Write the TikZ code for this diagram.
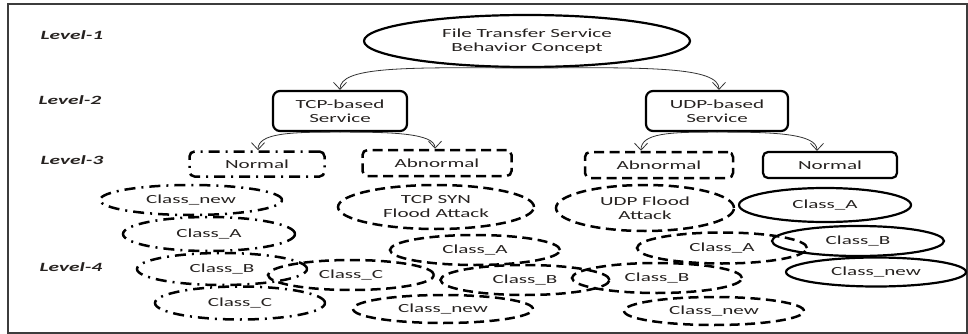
\documentclass[tikz,border=0pt]{standalone}
\usepackage{fontspec}
\setmainfont{Carlito}[FakeStretch=1.7]
\usetikzlibrary{shapes.geometric,arrows.meta}

\definecolor{ink}{RGB}{38,34,32}
\definecolor{framegray}{RGB}{60,60,60}

\begin{document}
\begin{tikzpicture}[x=1pt,y=-1pt,
  font=\fontsize{12.4}{14}\selectfont,
  every node/.style={text=ink},
  lvl/.style={font=\fontsize{12.6}{14}\selectfont\bfseries\itshape},
  oval/.style={ellipse,inner sep=0pt,align=center},
  box/.style={rectangle,inner sep=0pt,align=center,rounded corners=5pt},
  dashdotline/.style={draw,line width=2.5pt,dash pattern=on 11pt off 6pt on 2pt off 6pt},
  dashline/.style={draw,line width=2.5pt,dash pattern=on 10pt off 5.5pt},
  solidline/.style={draw,line width=2.2pt},
  conn/.style={draw=black!80,line width=0.8pt,-{Straight Barb[length=7pt,width=13pt]}}
]
\useasboundingbox (0,0) rectangle (968,334);
\draw[framegray,line width=1.5pt] (8,4) rectangle (967,333);

% level labels
\node[lvl] (l1) at (72,35) {Level-1};
\node[lvl] (l2) at (70,100) {Level-2};
\node[lvl] (l3) at (72,160) {Level-3};
\node[lvl] (l4) at (71,267) {Level-4};

% level 1 and 2
\node[oval,solidline,minimum width=326pt,minimum height=52pt] (root) at (527,41)
  {File Transfer Service\\Behavior Concept};
\node[box,solidline,rounded corners=7pt,minimum width=134pt,minimum height=40pt] (tcp) at (340,111)
  {TCP-based\\Service};
\node[box,solidline,rounded corners=7pt,minimum width=142pt,minimum height=40pt] (udp) at (717,111)
  {UDP-based\\Service};

% level 3
\node[box,dashdotline,minimum width=135pt,minimum height=25pt] (tn) at (257,164) {Normal};
\node[box,dashline,minimum width=149pt,minimum height=26pt] (ta) at (437,163) {Abnormal};
\node[box,dashline,minimum width=148pt,minimum height=26pt] (ua) at (659,165) {Abnormal};
\node[box,solidline,minimum width=134pt,minimum height=26pt] (un) at (830,165) {Normal};

% level 4: TCP normal classes
\node[oval,dashdotline,minimum width=182pt,minimum height=30pt] (tn1) at (191,200) {Class\_new};
\node[oval,dashdotline,minimum width=172pt,minimum height=34pt] (tn2) at (209,234) {Class\_A};
\node[oval,dashdotline,minimum width=170pt,minimum height=32pt] (tn3) at (222,269) {Class\_B};
\node[oval,dashdotline,minimum width=170pt,minimum height=33pt] (tn4) at (240,303) {Class\_C};

% level 4: TCP abnormal classes
\node[oval,dashline,minimum width=196pt,minimum height=44pt] (ta1) at (436,207) {TCP SYN\\Flood Attack};
\node[oval,dashline,minimum width=170pt,minimum height=30pt] (ta2) at (475,250) {Class\_A};
\node[oval,dashline,minimum width=166pt,minimum height=30pt] (ta3) at (351,275) {Class\_C};
\node[oval,dashline,minimum width=169pt,minimum height=30pt] (ta4) at (525,280) {Class\_B};
\node[oval,dashline,minimum width=180pt,minimum height=28pt] (ta5) at (443,309) {Class\_new};

% level 4: UDP abnormal classes
\node[oval,dashline,minimum width=178pt,minimum height=46pt] (ua1) at (645,208) {UDP Flood\\Attack};
\node[oval,dashline,minimum width=170pt,minimum height=31pt] (ua2) at (722,248) {Class\_A};
\node[oval,dashline,minimum width=170pt,minimum height=30pt] (ua3) at (657,278) {Class\_B};
\node[oval,dashline,minimum width=180pt,minimum height=28pt] (ua4) at (714,311) {Class\_new};

% level 4: UDP normal classes
\node[oval,solidline,minimum width=172pt,minimum height=34pt] (un1) at (825,205) {Class\_A};
\node[oval,solidline,minimum width=172pt,minimum height=30pt] (un2) at (858,241) {Class\_B};
\node[oval,solidline,minimum width=180pt,minimum height=29pt] (un3) at (876,272) {Class\_new};

% connectors
\draw[conn] (root.south) .. controls (400,67) and (340,67) .. (tcp.north);
\draw[conn] (root.south) .. controls (650,67) and (719,67) .. ([xshift=2pt]udp.north);
\draw[conn] (tcp.south) .. controls (290,132) and (258,133) .. ([xshift=1pt]tn.north);
\draw[conn] (tcp.south) .. controls (390,132) and (435,133) .. ([xshift=-2pt]ta.north);
\draw[conn] (udp.south) .. controls (670,132) and (641,133) .. ([xshift=-18pt]ua.north);
\draw[conn] (udp.south) .. controls (770,132) and (817,133) .. ([xshift=-13pt]un.north);
\end{tikzpicture}
\end{document}
